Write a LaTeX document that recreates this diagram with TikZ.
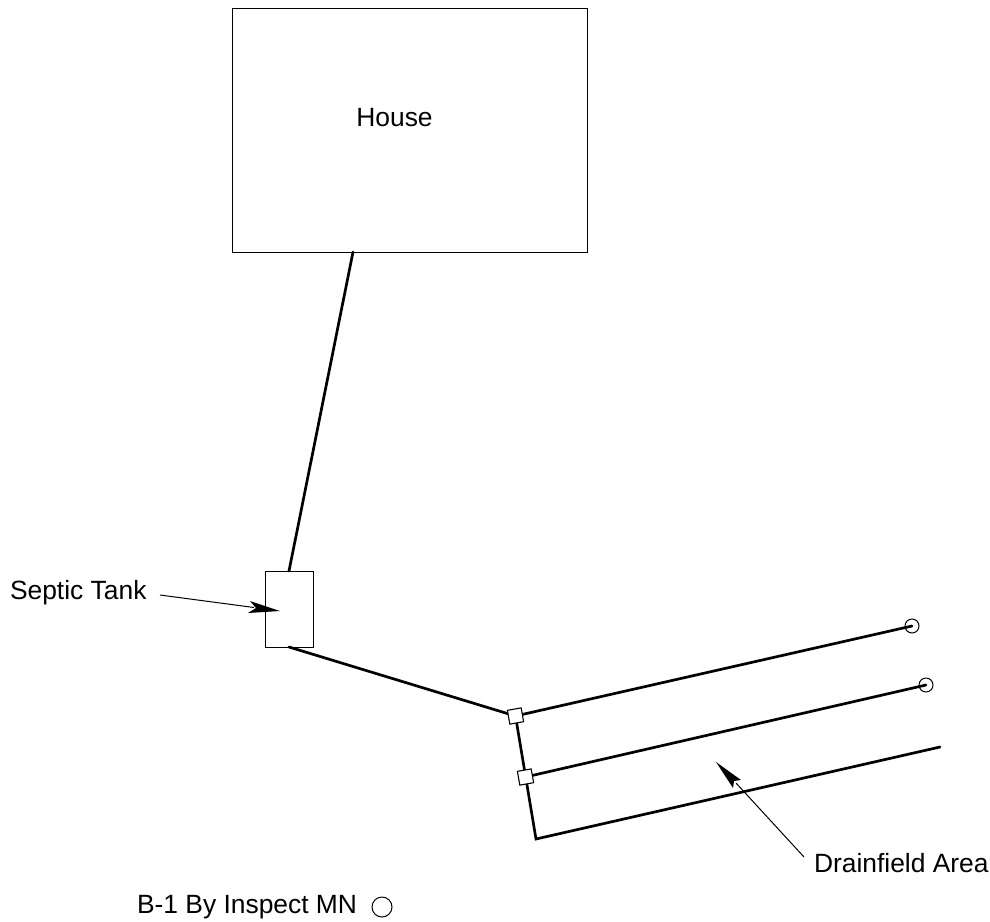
\documentclass[tikz,border=0pt]{standalone}
\usepackage{fontspec}
\setmainfont{Liberation Sans}
\tikzset{
  px/.style={x=1pt,y=-1pt},
  outline/.style={draw=black,line width=0.9pt,fill=white,inner sep=0pt,outer sep=0pt},
  pipe/.style={draw=black,line width=2.7pt,line cap=round,line join=miter},
  leader/.style={draw=black,line width=1pt},
  label/.style={font=\fontsize{26.4}{30}\selectfont,inner sep=0pt,outer sep=0pt,anchor=base west},
  tee/.style={outline,line width=1.1pt,minimum size=14pt,rotate=10},
  vent/.style={draw=black,line width=1pt,circle,inner sep=0pt,outer sep=0pt,minimum size=14pt},
  tipfill/.style={fill=black,draw=none}
}
\begin{document}
\begin{tikzpicture}[px]
\useasboundingbox (0,0) rectangle (990,921);
% house and tank
\node[outline,minimum width=355pt,minimum height=244pt] (house) at (409.5,130) {};
\node[label,anchor=base] (houselabel) at (394.5,126) {House};
\node[outline,minimum width=48pt,minimum height=76pt] (tank) at (289,609) {};
% named pipe points
\coordinate (houseout) at (353,252);
\coordinate (tankin) at (289,571);
\coordinate (tankout) at (289,647);
\coordinate (corner) at (536,839);
\coordinate (end3) at (940,747);
% vents
\node[vent] (v1) at (912,626) {};
\node[vent] (v2) at (926,685) {};
% pipes
\draw[pipe] (houseout) -- (tankin);
\coordinate (t1) at (515.5,716);
\coordinate (t2) at (525.5,777);
\draw[pipe] (tankout) -- (t1);
\draw[pipe] (t1) -- (v1.center);
\draw[pipe] (t2) -- (v2.center);
\draw[pipe] (t1) -- (corner) -- (end3);
\node[tee] (tee1) at (t1) {};
\node[tee] (tee2) at (t2) {};
% labels
\node[label] (septic) at (10,599) {Septic Tank};
\node[label] (drain) at (814,872) {Drainfield Area};
\node[label] (legend) at (137,913) {B-1 By Inspect MN};
\node[draw=black,line width=1pt,circle,inner sep=0pt,minimum size=20pt] (legendc) at (382,907) {};
% leaders
\coordinate (septicstart) at (160,595);
\coordinate (septictip) at (280,611);
\draw[leader] (septicstart) -- (254,607.5);
\fill[tipfill] (septictip) -- (250,601) -- (256,608) -- (248,613) -- cycle;
\coordinate (drainstart) at (804,857);
\coordinate (draintip) at (716,762);
\draw[leader] (drainstart) -- (736,783);
\fill[tipfill] (draintip) -- (741,780) -- (734,781) -- (733,788) -- cycle;
\end{tikzpicture}
\end{document}
